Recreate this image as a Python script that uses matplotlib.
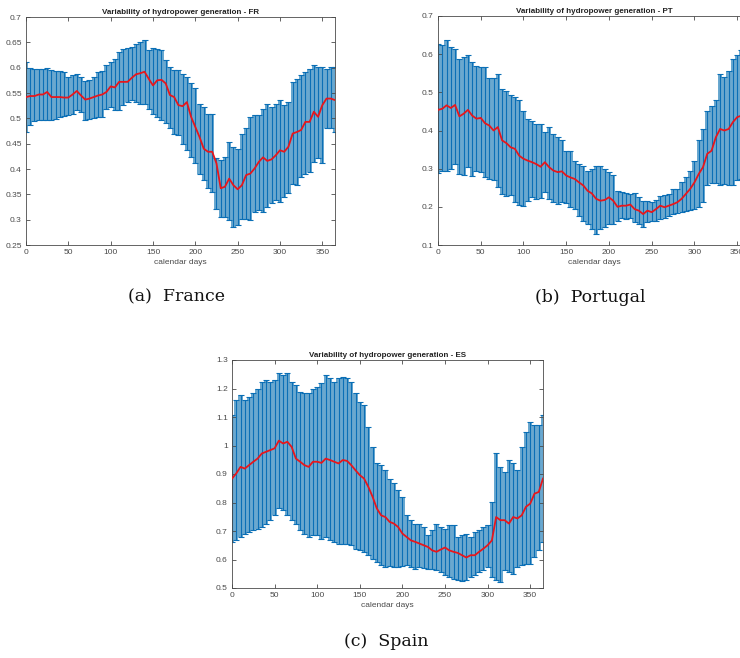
import numpy as np
import matplotlib
matplotlib.use("Agg")
import matplotlib.pyplot as plt

days = list(range(0, 366, 5))

fr_mean = [0.542, 0.544, 0.544, 0.547, 0.547, 0.552, 0.542, 0.542, 0.542, 0.541, 0.541, 0.547, 0.554, 0.545,
           0.537, 0.539, 0.542, 0.545, 0.547, 0.552, 0.563, 0.561, 0.572, 0.572, 0.572, 0.580, 0.587, 0.589,
           0.592, 0.578, 0.565, 0.575, 0.576, 0.569, 0.546, 0.542, 0.526, 0.524, 0.532, 0.503, 0.483, 0.463,
           0.440, 0.434, 0.434, 0.411, 0.362, 0.365, 0.381, 0.368, 0.360, 0.368, 0.388, 0.391, 0.401, 0.414,
           0.423, 0.416, 0.419, 0.427, 0.437, 0.434, 0.444, 0.470, 0.473, 0.477, 0.493, 0.493, 0.513, 0.503,
           0.526, 0.539, 0.539, 0.536]
fr_upper = [0.611, 0.600, 0.598, 0.598, 0.598, 0.600, 0.595, 0.594, 0.593, 0.592, 0.582, 0.585, 0.587, 0.582,
            0.573, 0.575, 0.582, 0.592, 0.594, 0.605, 0.611, 0.618, 0.631, 0.636, 0.638, 0.641, 0.647, 0.651,
            0.655, 0.634, 0.638, 0.636, 0.634, 0.616, 0.601, 0.595, 0.595, 0.588, 0.582, 0.569, 0.559, 0.529,
            0.523, 0.509, 0.508, 0.421, 0.417, 0.424, 0.454, 0.444, 0.440, 0.470, 0.480, 0.503, 0.506, 0.506,
            0.519, 0.529, 0.523, 0.529, 0.537, 0.526, 0.532, 0.572, 0.578, 0.585, 0.592, 0.598, 0.605, 0.601,
            0.601, 0.598, 0.601, 0.601]
fr_lower = [0.473, 0.486, 0.495, 0.496, 0.496, 0.496, 0.496, 0.499, 0.502, 0.504, 0.506, 0.509, 0.516, 0.513,
            0.496, 0.498, 0.500, 0.503, 0.502, 0.519, 0.523, 0.516, 0.516, 0.526, 0.532, 0.536, 0.532, 0.529,
            0.529, 0.519, 0.509, 0.503, 0.496, 0.490, 0.480, 0.470, 0.467, 0.450, 0.437, 0.424, 0.411, 0.391,
            0.378, 0.362, 0.355, 0.322, 0.306, 0.306, 0.299, 0.286, 0.289, 0.302, 0.302, 0.300, 0.316, 0.319,
            0.316, 0.325, 0.332, 0.339, 0.335, 0.345, 0.352, 0.371, 0.368, 0.385, 0.391, 0.394, 0.414, 0.421,
            0.411, 0.480, 0.480, 0.473]

pt_mean = [0.454, 0.457, 0.466, 0.459, 0.467, 0.437, 0.444, 0.454, 0.439, 0.431, 0.433, 0.419, 0.413, 0.400,
           0.409, 0.374, 0.367, 0.356, 0.352, 0.334, 0.326, 0.321, 0.317, 0.312, 0.305, 0.317, 0.304, 0.295,
           0.291, 0.293, 0.282, 0.277, 0.273, 0.264, 0.256, 0.242, 0.235, 0.221, 0.216, 0.218, 0.225, 0.216,
           0.200, 0.203, 0.203, 0.206, 0.194, 0.190, 0.181, 0.190, 0.186, 0.194, 0.203, 0.199, 0.203, 0.207,
           0.212, 0.221, 0.234, 0.247, 0.264, 0.286, 0.304, 0.339, 0.347, 0.382, 0.404, 0.400, 0.404, 0.422,
           0.435, 0.439, 0.444, 0.445]
pt_upper = [0.627, 0.623, 0.636, 0.619, 0.614, 0.588, 0.592, 0.598, 0.579, 0.568, 0.566, 0.566, 0.538, 0.538,
            0.547, 0.509, 0.503, 0.492, 0.489, 0.479, 0.452, 0.430, 0.426, 0.417, 0.416, 0.396, 0.409, 0.391,
            0.382, 0.374, 0.347, 0.347, 0.321, 0.312, 0.308, 0.295, 0.299, 0.308, 0.308, 0.299, 0.291, 0.284,
            0.242, 0.238, 0.235, 0.234, 0.235, 0.225, 0.216, 0.216, 0.212, 0.218, 0.229, 0.232, 0.234, 0.247,
            0.247, 0.264, 0.277, 0.295, 0.321, 0.374, 0.404, 0.452, 0.463, 0.479, 0.549, 0.540, 0.557, 0.588,
            0.597, 0.610, 0.614, 0.619]
pt_lower = [0.288, 0.293, 0.295, 0.299, 0.312, 0.286, 0.284, 0.304, 0.282, 0.295, 0.291, 0.277, 0.273, 0.269,
            0.251, 0.234, 0.229, 0.231, 0.212, 0.206, 0.203, 0.216, 0.225, 0.221, 0.223, 0.238, 0.221, 0.212,
            0.207, 0.212, 0.209, 0.199, 0.194, 0.177, 0.164, 0.155, 0.142, 0.129, 0.142, 0.148, 0.155, 0.155,
            0.164, 0.172, 0.168, 0.172, 0.159, 0.155, 0.148, 0.159, 0.164, 0.164, 0.168, 0.172, 0.177, 0.181,
            0.183, 0.186, 0.188, 0.192, 0.194, 0.199, 0.212, 0.256, 0.262, 0.262, 0.258, 0.260, 0.256, 0.256,
            0.269, 0.273, 0.277, 0.277]

es_mean = [0.884, 0.902, 0.925, 0.919, 0.931, 0.943, 0.954, 0.972, 0.978, 0.984, 0.990, 1.017, 1.007, 1.013,
           0.995, 0.954, 0.943, 0.931, 0.925, 0.943, 0.943, 0.939, 0.954, 0.949, 0.943, 0.937, 0.949, 0.946,
           0.931, 0.913, 0.896, 0.884, 0.855, 0.820, 0.779, 0.755, 0.749, 0.732, 0.726, 0.714, 0.691, 0.679,
           0.667, 0.662, 0.656, 0.650, 0.644, 0.632, 0.627, 0.635, 0.642, 0.632, 0.627, 0.623, 0.615, 0.607,
           0.615, 0.615, 0.627, 0.638, 0.650, 0.667, 0.749, 0.738, 0.738, 0.726, 0.749, 0.744, 0.755, 0.785,
           0.796, 0.831, 0.837, 0.884]
es_upper = [1.107, 1.159, 1.177, 1.159, 1.171, 1.183, 1.200, 1.224, 1.230, 1.224, 1.230, 1.253, 1.247, 1.253,
            1.224, 1.212, 1.189, 1.183, 1.183, 1.200, 1.206, 1.218, 1.247, 1.236, 1.224, 1.236, 1.241, 1.236,
            1.224, 1.183, 1.154, 1.142, 1.066, 0.995, 0.937, 0.931, 0.913, 0.884, 0.867, 0.843, 0.820, 0.755,
            0.738, 0.726, 0.726, 0.714, 0.685, 0.703, 0.726, 0.714, 0.708, 0.720, 0.720, 0.679, 0.685, 0.691,
            0.679, 0.697, 0.703, 0.714, 0.720, 0.802, 0.972, 0.925, 0.908, 0.949, 0.937, 0.913, 0.995, 1.048,
            1.083, 1.072, 1.072, 1.107]
es_lower = [0.662, 0.667, 0.679, 0.691, 0.697, 0.703, 0.708, 0.714, 0.726, 0.738, 0.755, 0.779, 0.773, 0.755,
            0.738, 0.726, 0.703, 0.691, 0.679, 0.685, 0.685, 0.673, 0.679, 0.667, 0.662, 0.656, 0.656, 0.656,
            0.650, 0.638, 0.632, 0.627, 0.615, 0.603, 0.591, 0.580, 0.574, 0.576, 0.574, 0.574, 0.576, 0.580,
            0.574, 0.568, 0.574, 0.571, 0.568, 0.568, 0.562, 0.556, 0.545, 0.539, 0.533, 0.527, 0.525, 0.527,
            0.539, 0.545, 0.556, 0.562, 0.574, 0.539, 0.527, 0.521, 0.562, 0.556, 0.550, 0.574, 0.580, 0.585,
            0.585, 0.609, 0.632, 0.662]

titles = ["Variability of hydropower generation - FR",
          "Variability of hydropower generation - PT",
          "Variability of hydropower generation - ES"]
captions = ["(a)  France", "(b)  Portugal", "(c)  Spain"]
ylims = [(0.25, 0.7), (0.1, 0.7), (0.5, 1.3)]
yticks = [[0.25, 0.3, 0.35, 0.4, 0.45, 0.5, 0.55, 0.6, 0.65, 0.7],
          [0.1, 0.2, 0.3, 0.4, 0.5, 0.6, 0.7],
          [0.5, 0.6, 0.7, 0.8, 0.9, 1.0, 1.1, 1.2, 1.3]]
yticklabels = [["0.25", "0.3", "0.35", "0.4", "0.45", "0.5", "0.55", "0.6", "0.65", "0.7"],
               ["0.1", "0.2", "0.3", "0.4", "0.5", "0.6", "0.7"],
               ["0.5", "0.6", "0.7", "0.8", "0.9", "1", "1.1", "1.2", "1.3"]]
xticks = [0, 50, 100, 150, 200, 250, 300, 350]

series = [(fr_mean, fr_upper, fr_lower), (pt_mean, pt_upper, pt_lower), (es_mean, es_upper, es_lower)]

W, H = 740, 658
fig = plt.figure(figsize=(W / 100, H / 100), dpi=100)
fig.patch.set_facecolor("white")

# axes boxes in pixels: left, top, width, height
boxes = [(26, 17, 309, 228), (438, 16, 312, 229), (232, 360, 311, 228)]
cap_pos = [(177, 297), (590, 297), (386, 642)]

axcol = "#4a4a4a"
barcol = "#0b6fb6"
fillcol = "#6aa8cf"

for i in range(3):
    l, t, w, h = boxes[i]
    ax = fig.add_axes([l / W, 1 - (t + h) / H, w / W, h / H])
    m, u, lo = (np.array(a) for a in series[i])
    d = np.array(days)
    ax.fill_between(d, lo, u, step="mid", color=fillcol, lw=0, zorder=1)
    ax.errorbar(d, m, yerr=[m - lo, u - m], fmt="none", ecolor=barcol,
                elinewidth=0.8, capsize=2.2, capthick=0.8, zorder=2)
    ax.plot(d, m, color="#e8161b", lw=1.3, zorder=3)
    ax.set_xlim(0, 365)
    ax.set_ylim(*ylims[i])
    ax.set_xticks(xticks)
    ax.set_xticklabels([str(x) for x in xticks])
    ax.set_yticks(yticks[i])
    ax.set_yticklabels(yticklabels[i])
    ax.tick_params(direction="in", length=3, width=0.6, top=True, right=True,
                   labelsize=6, colors=axcol, pad=3)
    for s in ax.spines.values():
        s.set_color(axcol)
        s.set_linewidth(0.6)
    ax.set_title(titles[i], fontsize=5.8, fontweight="bold", color="#222222", pad=2.5,
                 family="Liberation Sans")
    ax.set_xlabel("calendar days", fontsize=6, color=axcol, labelpad=2, family="Liberation Sans")
    for lab in ax.get_xticklabels() + ax.get_yticklabels():
        lab.set_family("Liberation Sans")
    cx, cy = cap_pos[i]
    fig.text(cx / W, 1 - cy / H, captions[i], ha="center", va="center",
             fontsize=12.5, family="DejaVu Serif", color="#111111")

fig.savefig("out.png", dpi=100, facecolor="white")
